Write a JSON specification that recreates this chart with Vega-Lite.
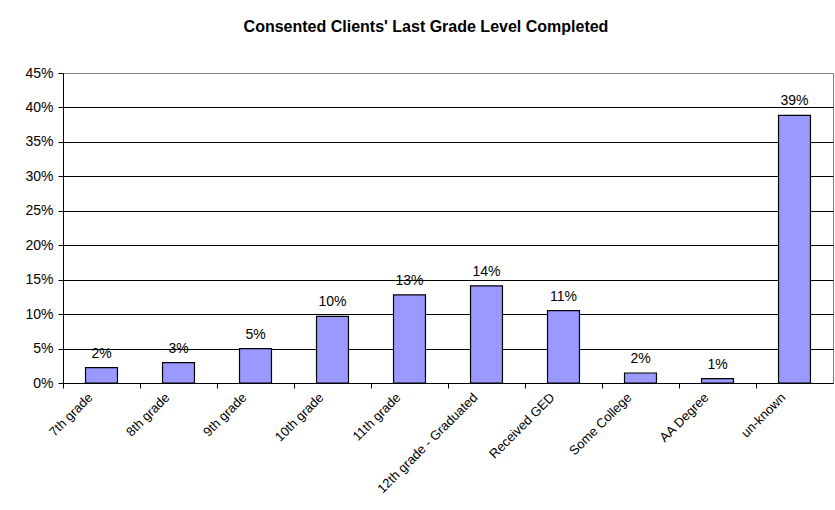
{
  "$schema": "https://vega.github.io/schema/vega-lite/v6.json",
  "autosize": "none",
  "width": 770,
  "height": 310,
  "padding": {"left": 63, "top": 73, "right": 2, "bottom": 127},
  "background": "white",
  "title": {
    "text": "Consented Clients' Last Grade Level Completed",
    "font": "Liberation Sans",
    "fontSize": 16,
    "fontWeight": "bold",
    "color": "black",
    "anchor": "middle",
    "dx": -22,
    "offset": 31
  },
  "data": {
    "values": [
      {"grade": "7th grade", "pct": 0.0224, "label": "2%"},
      {"grade": "8th grade", "pct": 0.0296, "label": "3%"},
      {"grade": "9th grade", "pct": 0.05, "label": "5%"},
      {"grade": "10th grade", "pct": 0.0968, "label": "10%"},
      {"grade": "11th grade", "pct": 0.128, "label": "13%"},
      {"grade": "12th grade - Graduated", "pct": 0.141, "label": "14%"},
      {"grade": "Received GED", "pct": 0.105, "label": "11%"},
      {"grade": "Some College", "pct": 0.0145, "label": "2%"},
      {"grade": "AA Degree", "pct": 0.0064, "label": "1%"},
      {"grade": "un-known", "pct": 0.3885, "label": "39%"}
    ]
  },
  "encoding": {
    "x": {
      "field": "grade",
      "type": "nominal",
      "sort": null,
      "scale": {"paddingInner": 0.585, "paddingOuter": 0.2925},
      "axis": {
        "title": null,
        "labelAngle": -45,
        "labelAlign": "right",
        "labelBaseline": "middle",
        "labelFont": "Liberation Sans",
        "labelFontSize": 13,
        "labelColor": "black",
        "labelPadding": 7,
        "tickOffset": -38.5,
        "labelOffset": 27,
        "tickSize": 5,
        "tickColor": "black",
        "domainColor": "black",
        "grid": false
      }
    },
    "y": {
      "field": "pct",
      "type": "quantitative",
      "scale": {"domain": [0, 0.45], "nice": false},
      "axis": {
        "title": null,
        "format": ".0%",
        "values": [0, 0.05, 0.1, 0.15, 0.2, 0.25, 0.3, 0.35, 0.4, 0.45],
        "labelFont": "Liberation Sans",
        "labelFontSize": 14,
        "labelColor": "black",
        "labelPadding": 5,
        "tickSize": 5,
        "tickColor": "black",
        "domainColor": "black",
        "grid": true,
        "gridColor": {"condition": {"test": "datum.value >= 0.449", "value": "#808080"}, "value": "black"},
        "gridWidth": 1
      }
    }
  },
  "layer": [
    {
      "mark": {"type": "bar", "color": "#9999FF", "stroke": "black", "strokeWidth": 1.2}
    },
    {
      "mark": {"type": "text", "dy": -14, "font": "Liberation Sans", "fontSize": 14, "color": "black"},
      "encoding": {"text": {"field": "label"}}
    }
  ],
  "config": {
    "view": {"stroke": "#808080", "strokeWidth": 1}
  }
}
